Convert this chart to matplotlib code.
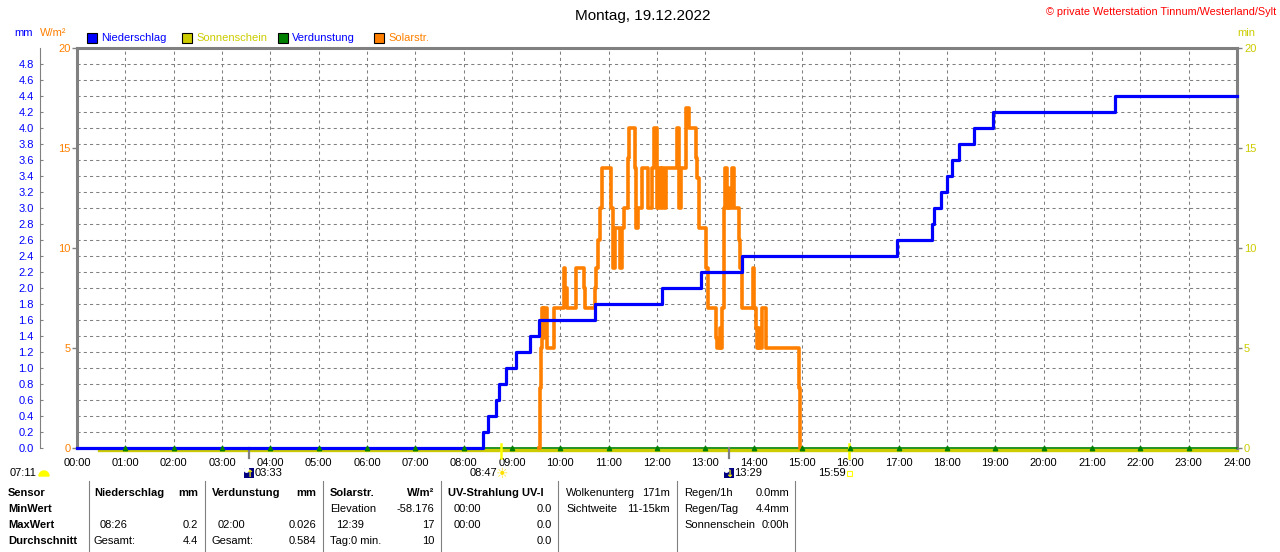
import numpy as np
import matplotlib
matplotlib.use('Agg')
import matplotlib.pyplot as plt
from matplotlib.patches import Rectangle, Wedge
from matplotlib.transforms import blended_transform_factory, offset_copy

plt.rcParams['font.family'] = ['Liberation Sans', 'DejaVu Sans']
plt.rcParams['font.size'] = 8

W, H = 1280, 552

BLUE = '#0000FF'
ORANGE = '#FF8000'
OLIVE = '#CCCC00'
YELLOW = '#FFFF00'
GREEN = '#008000'
GREY = '#808080'

# ---- data ----
hours = list(range(25))
hour_labels = [f"{h:02d}:00" for h in hours]

# Niederschlag (mm, cumulative)
rain_t = [0, 8.40, 8.51, 8.66, 8.73, 8.88, 9.08, 9.37, 9.56, 10.71, 12.11, 12.92,
          13.75, 16.97, 17.70, 17.74, 17.87, 17.99, 18.11, 18.25, 18.55, 18.96, 21.48, 24]
rain_v = [0, 0.2, 0.4, 0.6, 0.8, 1.0, 1.2, 1.4, 1.6, 1.8, 2.0, 2.2,
          2.4, 2.6, 2.8, 3.0, 3.2, 3.4, 3.6, 3.8, 4.0, 4.2, 4.4, 4.4]

# Solarstrahlung (W/m2)
solar_t = [9.56, 9.58, 9.60, 9.62, 9.64, 9.66, 9.72, 9.86, 10.08, 10.10, 10.14, 10.33,
           10.49, 10.51, 10.71, 10.73, 10.78, 10.82, 10.86, 11.04, 11.08, 11.10, 11.13,
           11.24, 11.27, 11.31, 11.40, 11.42, 11.55, 11.57, 11.61, 11.70, 11.82, 11.90,
           11.94, 12.01, 12.04, 12.08, 12.11, 12.14, 12.18, 12.42, 12.45, 12.50, 12.59,
           12.61, 12.66, 12.80, 12.83, 12.86, 13.02, 13.05, 13.22, 13.25, 13.30, 13.32,
           13.35, 13.38, 13.41, 13.44, 13.47, 13.50, 13.56, 13.60, 13.69, 13.72, 13.76,
           13.98, 14.01, 14.04, 14.06, 14.10, 14.12, 14.17, 14.26, 14.93, 14.96]
solar_v = [0, 3, 5, 7, 5.5, 7, 5, 7, 9, 8, 7, 9,
           8, 7, 8, 9, 10.4, 12, 14, 12, 10.4, 9, 11,
           9, 11, 12, 14.5, 16, 14, 11, 12, 14, 12, 14,
           16, 12, 14, 12, 14, 12, 14, 16, 12, 14, 15,
           17, 16, 14.5, 13.5, 11, 9, 7, 5.5, 5, 6, 5,
           7, 12, 14, 12, 13, 12, 14, 12, 10.4, 9, 7,
           9, 7, 6, 5, 6, 5, 7, 5, 3, 0]

# Sonnenschein (min) and Verdunstung, both flat at zero
sun_t = [0.46, 24]
sun_v = [0, 0]
verd_t = hours
verd_v = [0, 0, 0, 0, 0, 0, 0, 0, 0, 0, 0, 0, 0, 0, 0, 0, 0, 0, 0, 0, 0, 0, 0, 0, 0]

# Sonne / Mond events
moon_times = [3.55, 13.48]
moon_labels = ["03:33", "13:29"]
sunrise_time, sunrise_label = 8.78, "08:47"
sunset_time, sunset_label = 15.98, "15:59"
dawn_label = "07:11"

mm_ticks = [round(0.2 * i, 1) for i in range(25)]
wm2_ticks = [0, 5, 10, 15, 20]


def fx(x):
    return x / W


def fy(y):
    return 1 - y / H


def inch(x, y):
    return x / 100, (H - y) / 100


fig = plt.figure(figsize=(W / 100, H / 100), dpi=100)
ax = fig.add_axes([77 / W, 104 / H, 1160 / W, 400 / H])
ax.set_xlim(0, 24)
ax.set_ylim(0, 20)

ax.set_xticks(hours)
ax.set_xticklabels(hour_labels)
ax.tick_params(axis='x', length=0, pad=7)
ax.set_yticks(wm2_ticks)
ax.tick_params(axis='y', which='major', direction='out', length=3.6, width=1,
               color=GREY, labelcolor=ORANGE, pad=1)
ax.set_yticks(np.arange(0.8, 20, 0.8), minor=True)
ax.tick_params(axis='y', which='minor', length=0)
ax.grid(which='minor', axis='y', color=GREY, linestyle=(0, (3, 3)), linewidth=0.75)
ax.grid(which='major', axis='x', color=GREY, linestyle=(0, (3, 3)), linewidth=0.75)
for s in ['left', 'top', 'right']:
    ax.spines[s].set_color(GREY)
    ax.spines[s].set_linewidth(2.2)
ax.spines['bottom'].set_visible(False)

# mm axis on the far left
ax_mm = ax.twinx()
ax_mm.set_ylim(0, 5)
ax_mm.yaxis.tick_left()
for s in ['top', 'right', 'bottom']:
    ax_mm.spines[s].set_visible(False)
ax_mm.spines['left'].set_visible(True)
ax_mm.spines['left'].set_position(('axes', -37 / 1160))
ax_mm.spines['left'].set_color(GREY)
ax_mm.spines['left'].set_linewidth(0.8)
ax_mm.set_yticks(mm_ticks)
ax_mm.set_yticklabels([f"{v:.1f}" for v in mm_ticks])
ax_mm.tick_params(axis='y', direction='in', length=2.5, width=0.8, color=GREY,
                  labelcolor=BLUE, pad=4.5)

# min axis on the right
ax_r = ax.twinx()
ax_r.set_ylim(0, 20)
for s in ax_r.spines.values():
    s.set_visible(False)
ax_r.set_yticks(wm2_ticks)
ax_r.tick_params(axis='y', direction='out', length=3.6, width=1, color=GREY,
                 labelcolor=OLIVE, pad=1.5)

# series
ax.plot(sun_t, sun_v, color=OLIVE, lw=2.4, clip_on=False, zorder=2,
        transform=offset_copy(ax.transData, fig=fig, y=-1.5, units='dots'))
ax.plot(verd_t, verd_v, color=GREEN, lw=1.2, clip_on=False, zorder=3)
ax.plot(solar_t, solar_v, color=ORANGE, lw=2.6, drawstyle='steps-post',
        clip_on=False, zorder=4)
ax_mm.plot(rain_t, rain_v, color=BLUE, lw=2.3, drawstyle='steps-post',
           clip_on=False, zorder=3)
ax_mm.plot(verd_t[1:-1], verd_v[1:-1], ls='none', marker='^', ms=3.2,
           color=GREEN, clip_on=False, zorder=5)

# event ticks below the axis
trans = blended_transform_factory(ax.transData, ax.transAxes)
for t in moon_times:
    ax.plot([t, t], [0.0, -0.026], color=GREY, lw=1.6, transform=trans,
            clip_on=False, zorder=6)
for t in [sunrise_time, sunset_time]:
    ax.plot([t, t], [0.01, -0.024], color=YELLOW, lw=1.8, transform=trans,
            clip_on=False, zorder=6)


def xpix(t):
    return 77 + t / 24 * 1160


# second row below hour labels
row2 = 473
fig.text(fx(10), fy(row2), dawn_label, ha='left', va='center')
fig.add_artist(Wedge(inch(44, 476), 0.05, 0, 180, color=YELLOW,
                     transform=fig.dpi_scale_trans))
for t, lab, up in zip(moon_times, moon_labels, [True, False]):
    xp = xpix(t)
    fig.add_artist(Rectangle(inch(xp - 5, 478), 0.10, 0.10, facecolor='#000080',
                             edgecolor='none', transform=fig.dpi_scale_trans))
    fig.add_artist(Wedge(inch(xp - 2, 470), 0.022, 0, 360, color='white',
                         transform=fig.dpi_scale_trans))
    fig.text(fx(xp + 0.5), fy(row2 + 1), '↑' if up else '↓', color=YELLOW,
             ha='center', va='center', fontsize=7, fontweight='bold',
             family=['DejaVu Sans'])
    fig.text(fx(xp + 6), fy(row2), lab, ha='left', va='center')
xs = xpix(sunrise_time)
fig.text(fx(xs - 4), fy(row2), sunrise_label, ha='right', va='center')
fig.text(fx(xs + 1), fy(row2 + 1), '☀', color='#FFE000', ha='center', va='center',
         fontsize=10, family=['DejaVu Sans'])
xs = xpix(sunset_time)
fig.text(fx(xs - 4), fy(row2), sunset_label, ha='right', va='center')
fig.add_artist(Rectangle(inch(xs - 2, 476), 0.05, 0.05, facecolor='none',
                         edgecolor=YELLOW, lw=0.8, transform=fig.dpi_scale_trans))

# title, copyright, units, legend
fig.text(fx(643), fy(16), "Montag, 19.12.2022", ha='center', va='center', fontsize=11)
fig.text(fx(1276), fy(12), "© private Wetterstation Tinnum/Westerland/Sylt",
         ha='right', va='center', color='#FF0000', fontsize=7.8)
fig.text(fx(14), fy(33), "mm", color=BLUE, va='center')
fig.text(fx(40), fy(33), "W/m²", color=ORANGE, va='center')
fig.text(fx(1237), fy(33), "min", color=OLIVE, va='center')

legend_items = [("Niederschlag", BLUE, BLUE, 87),
                ("Sonnenschein", OLIVE, OLIVE, 182),
                ("Verdunstung", GREEN, BLUE, 278),
                ("Solarstr.", ORANGE, ORANGE, 374)]
for name, box_c, txt_c, x0 in legend_items:
    fig.add_artist(Rectangle(inch(x0, 43), 0.10, 0.10, facecolor=box_c,
                             edgecolor='black', lw=0.8, transform=fig.dpi_scale_trans))
    fig.text(fx(x0 + 14), fy(38), name, color=txt_c, va='center')

# table below the chart
rows_y = [493, 509, 525, 541]
row_heads = ["Sensor", "MinWert", "MaxWert", "Durchschnitt"]
for y, t in zip(rows_y, row_heads):
    fig.text(fx(8), fy(y), t, fontweight='bold', va='center')

bold_cols = [
    (94, 198, "Niederschlag", "mm",
     [("", ""), ("08:26", "0.2"), ("Gesamt:", "4.4")]),
    (212, 316, "Verdunstung", "mm",
     [("", ""), ("02:00", "0.026"), ("Gesamt:", "0.584")]),
    (330, 434, "Solarstr.", "W/m²",
     [("Elevation", "-58.176"), ("12:39", "17"), ("Tag:0 min.", "10")]),
    (448, 552, "UV-Strahlung UV-I", "",
     [("00:00", "0.0"), ("00:00", "0.0"), ("", "0.0")]),
]
for xl, xr, head, unit, cells in bold_cols:
    fig.text(fx(xl), fy(rows_y[0]), head, fontweight='bold', va='center')
    fig.text(fx(xr), fy(rows_y[0]), unit, fontweight='bold', va='center', ha='right')
    for y, (left, right) in zip(rows_y[1:], cells):
        indent = 6 if ':' in left and left[0].isdigit() else 0
        fig.text(fx(xl + indent), fy(y), left, va='center')
        fig.text(fx(xr), fy(y), right, va='center', ha='right')

plain_cols = [
    (566, 670, [("Wolkenunterg", "171m"), ("Sichtweite", "11-15km")]),
    (684, 789, [("Regen/1h", "0.0mm"), ("Regen/Tag", "4.4mm"), ("Sonnenschein", "0:00h")]),
]
for xl, xr, cells in plain_cols:
    for y, (left, right) in zip(rows_y, cells):
        fig.text(fx(xl), fy(y), left, va='center')
        fig.text(fx(xr), fy(y), right, va='center', ha='right')

for xs in [89, 205, 323, 441, 558, 677, 795]:
    fig.add_artist(plt.Line2D([fx(xs), fx(xs)], [fy(481), fy(552)], color=GREY,
                              lw=0.8, transform=fig.transFigure))

fig.savefig('out.png', dpi=100)
